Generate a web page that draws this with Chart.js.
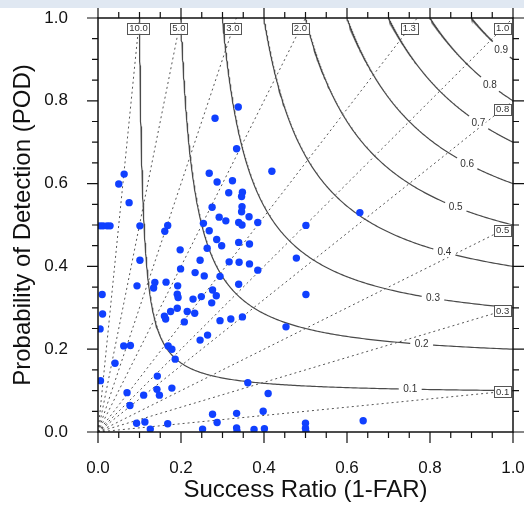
<!DOCTYPE html>
<html>
<head>
<meta charset="utf-8">
<script src="https://cdn.jsdelivr.net/npm/chart.js@4.4.0/dist/chart.umd.min.js"></script>
<style>
  html, body { margin: 0; padding: 0; background: #fff; }
  canvas { display: block; }
</style>
</head>
<body>
<canvas id="myCanvas" width="524" height="507"></canvas>
<script>
var axisTicks = [0, 0.2, 0.4, 0.6, 0.8, 1.0];
var csiLevels = [0.1, 0.2, 0.3, 0.4, 0.5, 0.6, 0.7, 0.8, 0.9];
var biasLevels = [10, 5, 3, 2, 1.3, 1, 0.8, 0.5, 0.3, 0.1];
var biasLabels = ['10.0', '5.0', '3.0', '2.0', '1.3', '1.0', '0.8', '0.5', '0.3', '0.1'];

var successRatio = [
  0.063, 0.050, 0.075, 0.005, 0.012, 0.022, 0.029, 0.101, 0.168, 0.161,
  0.101, 0.198, 0.199, 0.246, 0.234, 0.256, 0.254, 0.268, 0.094, 0.137,
  0.134, 0.164, 0.192, 0.010, 0.191, 0.193, 0.229, 0.249, 0.274, 0.276,
  0.285, 0.287, 0.324, 0.315, 0.348, 0.346, 0.347, 0.346, 0.275, 0.292,
  0.308, 0.339, 0.347, 0.364, 0.385, 0.419, 0.268, 0.286, 0.298, 0.263,
  0.339, 0.365, 0.316, 0.340, 0.365, 0.385, 0.294, 0.339, 0.478, 0.501,
  0.501, 0.338, 0.282, 0.334, 0.631, 0.011, 0.005, 0.062, 0.078, 0.041,
  0.006, 0.070, 0.077, 0.093, 0.113, 0.126, 0.110, 0.143, 0.142, 0.148,
  0.178, 0.168, 0.252, 0.169, 0.178, 0.186, 0.160, 0.163, 0.175, 0.191,
  0.215, 0.233, 0.208, 0.246, 0.264, 0.294, 0.320, 0.348, 0.453, 0.361,
  0.410, 0.276, 0.334, 0.398, 0.287, 0.334, 0.335, 0.376, 0.401, 0.500,
  0.500, 0.501, 0.639
];
var pod = [
  0.623, 0.599, 0.554, 0.498, 0.498, 0.498, 0.498, 0.498, 0.499, 0.485,
  0.415, 0.440, 0.394, 0.415, 0.385, 0.377, 0.504, 0.625, 0.353, 0.361,
  0.348, 0.362, 0.353, 0.332, 0.333, 0.325, 0.321, 0.327, 0.312, 0.343,
  0.329, 0.604, 0.607, 0.578, 0.579, 0.569, 0.544, 0.532, 0.543, 0.519,
  0.510, 0.506, 0.500, 0.520, 0.506, 0.630, 0.486, 0.465, 0.450, 0.444,
  0.458, 0.454, 0.411, 0.410, 0.406, 0.391, 0.376, 0.357, 0.420, 0.499,
  0.332, 0.785, 0.758, 0.684, 0.530, 0.285, 0.249, 0.208, 0.209, 0.166,
  0.124, 0.095, 0.064, 0.021, 0.024, 0.007, 0.089, 0.135, 0.103, 0.089,
  0.106, 0.020, 0.007, 0.208, 0.200, 0.176, 0.280, 0.273, 0.291, 0.299,
  0.291, 0.287, 0.266, 0.222, 0.234, 0.269, 0.273, 0.278, 0.254, 0.119,
  0.093, 0.043, 0.045, 0.050, 0.023, 0.010, 0.002, 0.006, 0.008, 0.021,
  0.009, 0.001, 0.027
];

var FONT = "'Liberation Sans', Arial, Helvetica, sans-serif";

// CSI isoline: POD = 1 / (1/csi - 1/SR + 1)
function csiPod(c, sr) { return 1 / (1 / c - 1 / sr + 1); }

function csiCurve(c) {
  var pts = [];
  for (var i = 0; i <= 300; i++) {
    var t = i / 300;
    var sr = c + (1 - c) * t * t * t;
    pts.push({x: sr, y: csiPod(c, sr)});
  }
  return pts;
}

function biasEnd(b, t) {
  return b >= 1 ? {x: t / b, y: t} : {x: t, y: t * b};
}

var datasets = [];
datasets.push({
  data: successRatio.map(function (v, i) { return {x: v, y: pod[i]}; }),
  backgroundColor: '#1040ff',
  borderWidth: 0,
  pointRadius: 3.7,
  order: 0
});
csiLevels.forEach(function (c) {
  datasets.push({
    data: csiCurve(c), showLine: true, pointRadius: 0,
    borderColor: '#4a4a4a', borderWidth: 1.2, order: 2
  });
});
biasLevels.forEach(function (b) {
  datasets.push({
    data: [{x: 0, y: 0}, biasEnd(b, 1)], showLine: true, pointRadius: 0,
    borderColor: '#555', borderWidth: 1, borderDash: [2, 3], order: 1
  });
});

var decor = {
  id: 'decor',
  beforeDatasetDraw: function (chart, args) {
    if (args.index !== 0) return;
    var ctx = chart.ctx, xs = chart.scales.x, ys = chart.scales.y;
    ctx.save();
    // csi labels along curves
    ctx.font = '10px ' + FONT;
    ctx.textAlign = 'center';
    ctx.textBaseline = 'middle';
    csiLevels.forEach(function (c) {
      var sr = 0.725 + 0.274 * c;
      var px = xs.getPixelForValue(sr), py = ys.getPixelForValue(csiPod(c, sr));
      var qx = xs.getPixelForValue(sr + 0.01), qy = ys.getPixelForValue(csiPod(c, sr + 0.01));
      var ang = Math.atan2(qy - py, qx - px);
      var lbl = c.toFixed(1);
      var w = ctx.measureText(lbl).width + 9;
      ctx.save();
      ctx.translate(px, py);
      ctx.rotate(ang);
      ctx.fillStyle = '#fff';
      ctx.fillRect(-w / 2, -4, w, 8);
      ctx.restore();
      ctx.fillStyle = '#333';
      ctx.fillText(lbl, px, py + 0.5);
    });
    // bias label boxes
    ctx.font = '9.5px ' + FONT;
    biasLevels.forEach(function (b, i) {
      var p = biasEnd(b, 0.975);
      var px = xs.getPixelForValue(p.x), py = ys.getPixelForValue(p.y);
      var w = ctx.measureText(biasLabels[i]).width + 4, h = 11;
      ctx.fillStyle = '#fff';
      ctx.fillRect(px - w / 2, py - h / 2, w, h);
      ctx.strokeStyle = '#555';
      ctx.lineWidth = 1;
      ctx.strokeRect(Math.round(px - w / 2) + 0.5, Math.round(py - h / 2) + 0.5, Math.round(w), h);
      ctx.fillStyle = '#333';
      ctx.fillText(biasLabels[i], px, py + 0.5);
    });
    ctx.restore();
  },
  afterDraw: function (chart) {
    var ctx = chart.ctx, a = chart.chartArea, xs = chart.scales.x, ys = chart.scales.y;
    ctx.save();
    ctx.strokeStyle = '#111';
    ctx.lineWidth = 1.5;
    ctx.strokeRect(a.left, a.top, a.right - a.left, a.bottom - a.top);
    ctx.lineWidth = 1.2;
    ctx.beginPath();
    for (var i = 0; i <= 20; i++) {
      var v = i / 20, len = (i % 4 === 0) ? 11 : 6;
      var px = xs.getPixelForValue(v), py = ys.getPixelForValue(v);
      ctx.moveTo(px, a.bottom); ctx.lineTo(px, a.bottom + len);
      ctx.moveTo(px, a.top); ctx.lineTo(px, a.top - len);
      ctx.moveTo(a.left, py); ctx.lineTo(a.left - len, py);
      ctx.moveTo(a.right, py); ctx.lineTo(a.right + len, py);
    }
    ctx.stroke();
    ctx.fillStyle = '#e0e8f2';
    ctx.fillRect(0, 0, chart.width, 8);
    ctx.restore();
  }
};

var ctx = document.getElementById('myCanvas').getContext('2d');
var chart = new Chart(ctx, {
  type: 'scatter',
  data: {datasets: datasets},
  options: {
    responsive: false,
    animation: false,
    devicePixelRatio: 1,
    layout: {padding: {top: 18, right: 11, left: 0, bottom: 0}},
    plugins: {legend: {display: false}, tooltip: {enabled: false}},
    scales: {
      x: {
        type: 'linear', position: 'bottom', min: 0, max: 1,
        afterBuildTicks: function (s) { s.ticks = axisTicks.map(function (v) { return {value: v}; }); },
        afterFit: function (s) { s.height = 75; s.paddingLeft = 0; s.paddingRight = 0; },
        grid: {display: false}, border: {display: false},
        ticks: {
          padding: 18, color: '#111', maxRotation: 0, autoSkip: false,
          font: {family: FONT, size: 17},
          callback: function (v) { return v.toFixed(1); }
        },
        title: {
          display: true, text: 'Success Ratio (1-FAR)', color: '#111',
          font: {family: FONT, size: 24}, padding: {top: 0, bottom: 2}
        }
      },
      y: {
        type: 'linear', position: 'left', min: 0, max: 1,
        afterBuildTicks: function (s) { s.ticks = axisTicks.map(function (v) { return {value: v}; }); },
        afterFit: function (s) { s.width = 98; s.paddingTop = 0; s.paddingBottom = 0; },
        grid: {display: false}, border: {display: false},
        ticks: {
          padding: 22, color: '#111', autoSkip: false,
          font: {family: FONT, size: 17},
          callback: function (v) { return v.toFixed(1); }
        },
        title: {
          display: true, text: 'Probability of Detection (POD)', color: '#111',
          font: {family: FONT, size: 24}, padding: {top: 9, bottom: 0}
        }
      }
    }
  },
  plugins: [decor]
});
</script>
</body>
</html>
